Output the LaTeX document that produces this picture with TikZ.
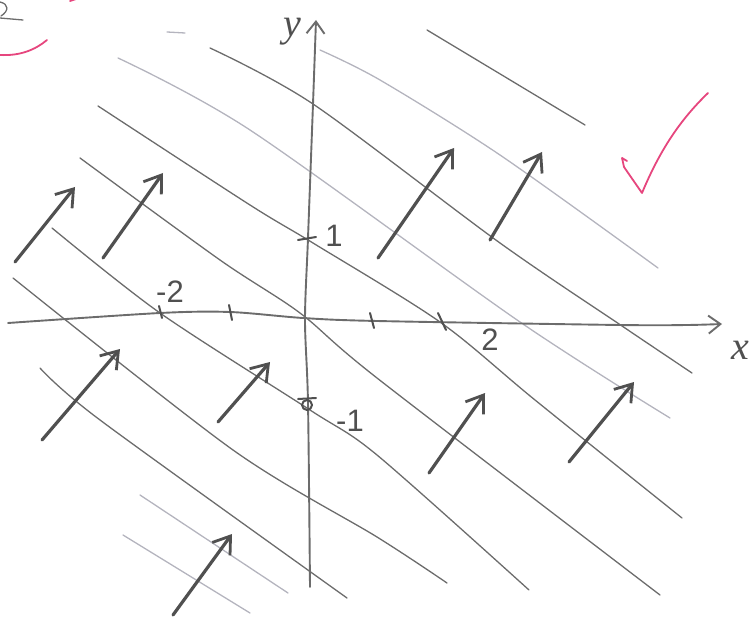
\documentclass[tikz,border=0pt]{standalone}
\usepackage{fontspec}
\setmainfont{Liberation Serif}
\setsansfont{Liberation Sans}
\usetikzlibrary{arrows.meta}
\definecolor{cpencil}{HTML}{6C6C6C}
\definecolor{cfaint}{HTML}{B4B4BE}
\definecolor{cdark}{HTML}{505050}
\definecolor{cpink}{HTML}{E6467E}
\tikzset{
  every picture/.style={line cap=round, line join=round},
  lvl/.style={draw=#1, line width=1.3pt},
  lvl/.default=cpencil,
  axis/.style={draw=cpencil, line width=1.9pt, -{Straight Barb[length=12pt, width=18pt, line width=1.9pt]}},
  grad/.style={draw=cdark, line width=3.2pt, -{Straight Barb[length=16pt, width=22pt, line width=2.8pt]}},
  tickmark/.style={draw=cdark, line width=2pt},
  lab/.style={text=cdark, font=\sffamily\fontsize{31}{33}\selectfont, inner sep=0pt},
  axlab/.style={text=cdark, font=\fontsize{40}{42}\selectfont\itshape, inner sep=0pt},
  pen/.style={draw=cpink, line width=1.8pt},
}

\begin{document}
\begin{tikzpicture}[x=1pt, y=-1pt]
  \useasboundingbox (0,0) rectangle (754,617);
  % level lines
  \draw[lvl] plot[smooth, tension=0.5] coordinates {(427,30) (585,125)};
  \draw[lvl=cfaint] plot[smooth, tension=0.5] coordinates {(320,50) (380,80) (500,155) (658,268)};
  \draw[lvl] plot[smooth, tension=0.5] coordinates {(210,48) (313,104) (500,243) (625,328) (692,373)};
  \draw[lvl=cfaint] plot[smooth, tension=0.5] coordinates {(118,58) (250,130) (520,322) (670,418)};
  \draw[lvl] plot[smooth, tension=0.5] coordinates {(98,106) (250,205) (313,243) (440,322) (535,400) (682,518)};
  \draw[lvl] plot[smooth, tension=0.5] coordinates {(80,158) (220,260) (300,313) (377,378) (660,595)};
  \draw[lvl] plot[smooth, tension=0.5] coordinates {(52,228) (160,313) (310,410) (377,455) (529,590)};
  \draw[lvl] plot[smooth, tension=0.5] coordinates {(13,278) (233,450) (377,537) (447,583)};
  \draw[lvl] plot[smooth, tension=0.5] coordinates {(40,368) (100,420) (347,598)};
  \draw[lvl=cfaint] (140,495) -- (288,593);
  \draw[lvl=cfaint] (123,535) -- (250,613);
  % axes
  \draw[axis] plot[smooth, tension=0.5] coordinates {(8,323) (160,313) (230,312) (303,318) (377,321) (620,325) (687,325) (722,324)};
  \draw[axis] plot[smooth, tension=0.5] coordinates {(310,587) (308,403) (305,320) (308,238) (313,104) (316,20)};
  \node[axlab] (xlab) at (740,350) {x};
  \node[axlab] (ylab) at (292,32) {y};
  % ticks
  \draw[tickmark] (159,306) -- (162,318);
  \draw[tickmark] (229,305) -- (232,320);
  \draw[tickmark] (370,313) -- (374,328);
  \draw[tickmark] (438,313) -- (446,330);
  \draw[tickmark] (298,240) -- (316,237);
  \draw[tickmark] (307,405) circle (5);
  \draw[tickmark] (298,399) -- (316,398);
  \node[lab] (mtwo) at (170,292) {-2};
  \node[lab] (two) at (490,340) {2};
  \node[lab] (one) at (334,236) {1};
  \node[lab] (mone) at (350,421) {-1};
  % gradient arrows
  \draw[grad] (15,262) -- (75,187);
  \draw[grad] (103,258) -- (163,173);
  \draw[grad] (378,258) -- (454,148);
  \draw[grad] (490,240) -- (542,152);
  \draw[grad] (42,440) -- (120,349);
  \draw[grad] (218,422) -- (270,362);
  \draw[grad] (429,473) -- (485,393);
  \draw[grad] (569,462) -- (634,382);
  \draw[grad] (173,615) -- (232,534);
  % marks
  \draw[pen] (627,161) -- (622,158) -- (624,167) -- (642,193) .. controls (660,150) and (680,120) .. (708,93);
  \draw[pen] (0,55) .. controls (20,56) and (35,50) .. (47,40);
  \draw[pen] (70,1) -- (76,-1);
  \draw[lvl] (0,2) .. controls (9,4) and (9,11) .. (1,16);
  \draw[lvl] (0,18) -- (23,20);
  \draw[lvl=cfaint] (167,32) -- (185,33);
\end{tikzpicture}
\end{document}
